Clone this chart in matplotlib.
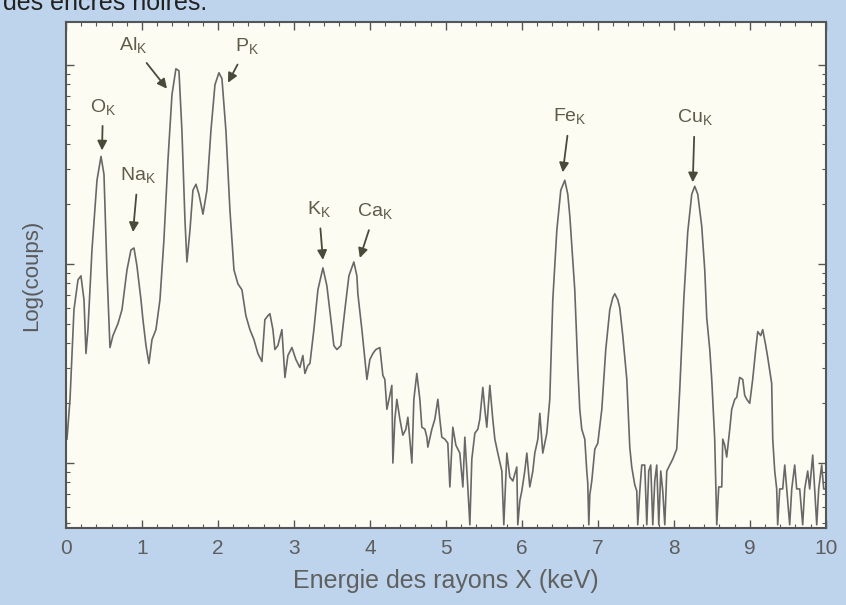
import numpy as np
import matplotlib.pyplot as plt
from matplotlib.ticker import MultipleLocator, NullFormatter, LogLocator

# spectre EDX : energie (keV) et log10(coups)
energy = [0.013, 0.053, 0.105, 0.158, 0.197, 0.237, 0.263, 0.289, 0.342, 0.408,
          0.461, 0.500, 0.539, 0.579, 0.618, 0.684, 0.737, 0.803, 0.855, 0.895,
          0.934, 0.987, 1.013, 1.053, 1.092, 1.132, 1.184, 1.237, 1.289, 1.342,
          1.395, 1.447, 1.487, 1.526, 1.566, 1.592, 1.632, 1.671, 1.711, 1.750,
          1.803, 1.855, 1.908, 1.961, 2.013, 2.053, 2.105, 2.158, 2.211, 2.263,
          2.316, 2.368, 2.421, 2.474, 2.526, 2.579, 2.618, 2.658, 2.684, 2.724,
          2.750, 2.789, 2.842, 2.882, 2.921, 2.974, 3.026, 3.079, 3.118, 3.145,
          3.184, 3.211, 3.263, 3.316, 3.382, 3.434, 3.487, 3.526, 3.566, 3.618,
          3.671, 3.724, 3.789, 3.829, 3.842, 3.895, 3.934, 3.961, 4.000, 4.039,
          4.079, 4.132, 4.171, 4.197, 4.224, 4.263, 4.289, 4.303, 4.329, 4.355,
          4.395, 4.434, 4.474, 4.500, 4.526, 4.553, 4.579, 4.618, 4.658, 4.684,
          4.724, 4.750, 4.763, 4.816, 4.855, 4.895, 4.921, 4.947, 4.987, 5.026,
          5.053, 5.092, 5.132, 5.184, 5.224, 5.250, 5.289, 5.316, 5.342, 5.382,
          5.421, 5.447, 5.487, 5.513, 5.539, 5.579, 5.618, 5.645, 5.684, 5.737,
          5.763, 5.803, 5.842, 5.882, 5.934, 5.947, 5.974, 6.000, 6.039, 6.066,
          6.105, 6.145, 6.171, 6.211, 6.237, 6.276, 6.329, 6.368, 6.408, 6.461,
          6.513, 6.566, 6.605, 6.632, 6.671, 6.697, 6.737, 6.763, 6.789, 6.829,
          6.855, 6.868, 6.882, 6.895, 6.921, 6.961, 7.000, 7.053, 7.105, 7.158,
          7.197, 7.224, 7.263, 7.289, 7.329, 7.355, 7.382, 7.421, 7.447, 7.487,
          7.513, 7.526, 7.553, 7.579, 7.618, 7.645, 7.671, 7.697, 7.724, 7.750,
          7.776, 7.803, 7.829, 7.855, 7.882, 7.908, 7.947, 7.987, 8.039, 8.079,
          8.132, 8.184, 8.237, 8.276, 8.316, 8.368, 8.408, 8.434, 8.474, 8.500,
          8.539, 8.566, 8.592, 8.632, 8.645, 8.671, 8.697, 8.737, 8.763, 8.803,
          8.829, 8.868, 8.908, 8.934, 8.961, 9.000, 9.039, 9.079, 9.105, 9.145,
          9.171, 9.211, 9.237, 9.289, 9.303, 9.329, 9.355, 9.368, 9.395, 9.434,
          9.461, 9.487, 9.526, 9.553, 9.592, 9.618, 9.658, 9.697, 9.724, 9.763,
          9.789, 9.829, 9.855, 9.882, 9.908, 9.947, 9.974, 10.0]
log_counts = [1.12, 1.32, 1.77, 1.92, 1.94, 1.82, 1.55, 1.67, 2.07, 2.42,
              2.54, 2.45, 1.97, 1.58, 1.64, 1.70, 1.77, 1.97, 2.07, 2.08,
              1.99, 1.82, 1.72, 1.59, 1.50, 1.62, 1.67, 1.82, 2.12, 2.52,
              2.85, 2.98, 2.97, 2.67, 2.22, 2.01, 2.17, 2.37, 2.40, 2.35,
              2.25, 2.37, 2.67, 2.90, 2.96, 2.93, 2.67, 2.27, 1.97, 1.90,
              1.87, 1.74, 1.67, 1.62, 1.55, 1.51, 1.72, 1.74, 1.75, 1.67,
              1.57, 1.59, 1.67, 1.43, 1.54, 1.58, 1.52, 1.48, 1.54, 1.45,
              1.49, 1.50, 1.67, 1.87, 1.98, 1.89, 1.72, 1.59, 1.57, 1.59,
              1.77, 1.94, 2.01, 1.94, 1.85, 1.67, 1.52, 1.42, 1.52, 1.55,
              1.57, 1.58, 1.44, 1.42, 1.27, 1.34, 1.39, 1.00, 1.22, 1.32,
              1.22, 1.14, 1.17, 1.23, 1.12, 1.00, 1.32, 1.45, 1.32, 1.18,
              1.17, 1.13, 1.08, 1.17, 1.22, 1.32, 1.22, 1.13, 1.12, 1.10,
              0.88, 1.18, 1.09, 1.05, 0.88, 1.13, 0.88, 0.69, 1.02, 1.15,
              1.17, 1.22, 1.38, 1.27, 1.18, 1.39, 1.22, 1.12, 1.05, 0.96,
              0.69, 1.05, 0.93, 0.91, 0.98, 0.69, 0.81, 0.86, 0.96, 1.05,
              0.88, 0.96, 1.05, 1.12, 1.25, 1.05, 1.15, 1.32, 1.82, 2.17,
              2.37, 2.42, 2.35, 2.24, 2.02, 1.87, 1.48, 1.27, 1.17, 1.12,
              0.96, 0.90, 0.69, 0.84, 0.91, 1.07, 1.10, 1.27, 1.57, 1.77,
              1.83, 1.85, 1.82, 1.78, 1.64, 1.53, 1.42, 1.08, 0.98, 0.89,
              0.86, 0.69, 0.86, 0.99, 0.99, 0.69, 0.96, 0.99, 0.69, 0.91,
              0.99, 0.69, 0.96, 0.86, 0.69, 0.96, 0.99, 1.02, 1.07, 1.37,
              1.82, 2.16, 2.35, 2.39, 2.35, 2.19, 1.97, 1.73, 1.57, 1.42,
              1.12, 0.69, 0.88, 0.88, 1.12, 1.09, 1.03, 1.17, 1.27, 1.32,
              1.33, 1.43, 1.42, 1.34, 1.32, 1.30, 1.42, 1.57, 1.66, 1.64,
              1.67, 1.59, 1.53, 1.40, 1.12, 0.96, 0.87, 0.69, 0.87, 0.87,
              0.99, 0.87, 0.69, 0.87, 0.99, 0.87, 0.87, 0.69, 0.87, 0.96,
              0.87, 1.04, 0.87, 0.69, 0.87, 0.99, 0.87, 0.87]

# raies identifiees : pointe de la fleche (keV, log10 coups) et decalage du texte (px)
peak_names = ['O', 'Na', 'Al', 'P', 'K', 'Ca', 'Fe', 'Cu']
peak_energy = [0.474, 0.882, 1.329, 2.132, 3.382, 3.868, 6.539, 8.250]
peak_tip = [2.57, 2.16, 2.88, 2.91, 2.02, 2.03, 2.46, 2.41]
label_dx = [1, 5, -34, 19, -4, 15, 7, 2]
label_dy = [43, 56, 43, 36, 50, 46, 55, 64]

plt.rcParams['font.family'] = ['Liberation Sans', 'DejaVu Sans']

fig = plt.figure(figsize=(8.46, 6.05), dpi=100, facecolor='#bdd4ec')
ax = fig.add_axes([0.078, 0.127, 0.898, 0.837])
ax.set_facecolor('#fdfcf3')

counts = np.power(10.0, log_counts)
ax.plot(energy, counts, color='#686868', lw=1.2)

ax.set_yscale('log')
ax.set_xlim(0, 10)
ax.set_ylim(10 ** 0.673, 10 ** 3.216)

ax.xaxis.set_major_locator(MultipleLocator(1))
ax.xaxis.set_minor_locator(MultipleLocator(0.2))
ax.yaxis.set_major_locator(LogLocator(base=10))
ax.yaxis.set_minor_locator(LogLocator(base=10, subs=np.arange(2, 10)))
ax.yaxis.set_major_formatter(NullFormatter())
ax.yaxis.set_minor_formatter(NullFormatter())
ax.tick_params(which='both', direction='in', top=True, right=True, colors='#555555')
ax.tick_params(which='major', length=6, width=1.0)
ax.tick_params(which='minor', length=3, width=0.8)
ax.tick_params(axis='x', which='major', labelsize=15, labelcolor='#5e5e5e', pad=8)
for s in ax.spines.values():
    s.set_color('#555555')
    s.set_linewidth(1.5)

ax.set_xlabel('Energie des rayons X (keV)', fontsize=18, color='#606060', labelpad=8)
ax.set_ylabel('Log(coups)', fontsize=16, color='#5a5a5a', labelpad=14)

for name, e, tip, dx, dy in zip(peak_names, peak_energy, peak_tip, label_dx, label_dy):
    ax.annotate(name + '$_\\mathregular{K}$', xy=(e, 10 ** tip), xytext=(dx, dy),
                textcoords='offset pixels', ha='center', va='center',
                fontsize=14, color='#5c5c48',
                arrowprops=dict(arrowstyle='-|>', color='#4a4a3a', lw=1.3,
                                mutation_scale=14, shrinkA=4, shrinkB=0))

fig.text(0.003, 1 - 10 / 605, 'des encres noires.', fontsize=18, color='#222222',
         va='baseline', ha='left')

plt.savefig('out.png', dpi=100, facecolor=fig.get_facecolor())
